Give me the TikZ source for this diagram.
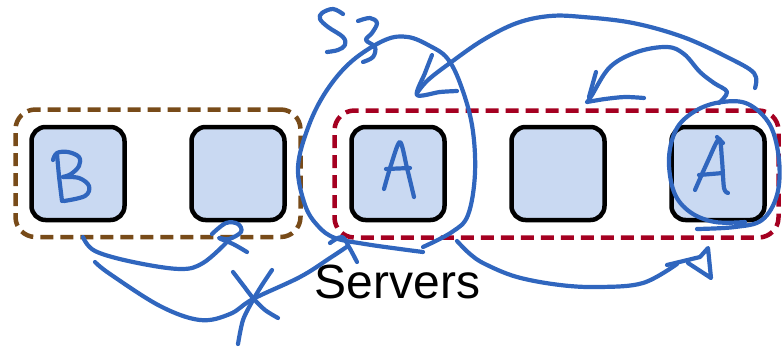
\documentclass[tikz,border=0pt]{standalone}
\usepackage{fontspec}
\setmainfont{Liberation Sans}
\definecolor{cardfill}{HTML}{C9D9F2}
\definecolor{inkblue}{HTML}{3066BE}
\definecolor{grpbrown}{HTML}{784B19}
\definecolor{grpred}{HTML}{A50021}
\tikzset{
  card/.style={draw=black, fill=cardfill, line width=4.5pt, rounded corners=14pt,
    minimum width=93pt, minimum height=93pt, inner sep=0pt},
  grpframe/.style={line width=4.5pt, dash pattern=on 13pt off 7pt, rounded corners=20pt,
    inner sep=0pt},
  ink/.style={draw=inkblue, line width=4.2pt, line cap=round, line join=round},
  label/.style={font=\fontsize{48}{58}\selectfont, inner sep=0pt}
}
\begin{document}
\begin{tikzpicture}[x=1pt,y=-1pt]
\useasboundingbox (0,0) rectangle (782,346);

% group frames
\node[grpframe, draw=grpbrown, minimum width=285pt, minimum height=127.5pt] (grpL) at (158,173.25) {};
\node[grpframe, draw=grpred, minimum width=444pt, minimum height=127pt] (grpR) at (556.5,174) {};

% servers
\node[card] (b1) at (78,173.5) {};
\node[card] (b2) at (238,173.5) {};
\node[card] (b3) at (398,173.5) {};
\node[card] (b4) at (558,173.5) {};
\node[card] (b5) at (718,173.5) {};

\node[label, anchor=base west] (srv) at (314.5,298) {Servers};

% handwritten B
\draw[ink] plot[smooth] coordinates {(57,154) (59,176) (62,201)};
\draw[ink] plot[smooth, tension=0.6] coordinates {(53,160) (57,153) (68,152) (79,157) (79,166) (71,174) (63,177)};
\draw[ink] plot[smooth, tension=0.6] coordinates {(63,177) (79,178) (89,186) (85,196) (64,201)};

% handwritten A (middle)
\draw[ink] plot[smooth] coordinates {(384,189) (391,165) (400,142) (407,168) (414,197)};
\draw[ink] (386,169) -- (410,168);

% handwritten A (right) and its loop
\draw[ink] plot[smooth] coordinates {(695,190) (707,163) (719,139) (722,160) (724,188) (728,193)};
\draw[ink] (717,137) -- (723,143);
\draw[ink] (699,175) -- (723,173);
\draw[ink] plot[smooth, tension=0.6] coordinates {(697,229) (735,227) (762,220) (777,195) (779,160) (770,125) (748,104) (722,102) (697,110) (677,128) (669,158) (674,192) (690,212) (715,222) (745,222)};

% arrow from the right loop back to the left
\draw[ink] plot[smooth, tension=0.6] coordinates {(719,103) (727,92) (714,83) (700,72) (684,54) (667,47) (637,52) (610,67) (592,95) (588,101)};
\draw[ink] (596,72) -- (589,97);
\draw[ink] plot[smooth] coordinates {(587,102) (605,99) (625,97) (644,98)};

% big arc into the S3 loop
\draw[ink] plot[smooth, tension=0.6] coordinates {(755,88) (754,73) (727,57) (683,37) (633,23) (583,17) (550,16) (517,23) (483,40) (450,63) (428,80) (417,93)};
\draw[ink] plot[smooth] coordinates {(432,55) (425,73) (417,95) (440,92) (457,91)};

% S3 loop
\draw[ink] plot[smooth, tension=0.6] coordinates {(423,247) (452,232) (468,215) (475,173) (472,125) (460,83) (447,58) (430,46) (408,37) (385,40) (352,61) (327,90) (309,125) (298,167) (305,205) (318,226) (335,238) (365,244) (400,249) (423,252)};

% S3 label
\draw[ink] plot[smooth, tension=0.6] coordinates {(343,14) (333,9) (322,13) (320,19) (328,27) (343,37) (345,45) (338,50) (327,52)};
\draw[ink] plot[smooth, tension=0.6] coordinates {(358,21) (370,18) (377,23) (372,33) (366,40) (375,47) (373,57) (363,62)};

% lower-left strokes
\draw[ink] plot[smooth, tension=0.6] coordinates {(83,237) (95,251) (133,262) (180,269) (203,263) (226,243)};
\draw[ink] plot[smooth, tension=0.6] coordinates {(212,234) (226,223) (238,224) (241,232) (229,239) (219,238) (233,244) (247,252)};
\draw[ink] plot[smooth, tension=0.6] coordinates {(95,262) (110,274) (160,306) (200,320) (230,314) (253,299) (300,277) (330,258) (348,246)};
\draw[ink] plot[smooth, tension=0.6] coordinates {(330,243) (342,237) (349,247) (357,262)};

% cross mark
\draw[ink] plot[smooth] coordinates {(233,272) (243,285) (253,298) (265,310) (278,318)};
\draw[ink] plot[smooth] coordinates {(272,270) (262,285) (253,300) (243,320) (238,344)};

% lower-right arrow
\draw[ink] plot[smooth, tension=0.6] coordinates {(457,241) (470,254) (485,264) (517,277) (560,285) (600,287) (643,283) (677,264)};
\draw[ink] (667,265) -- (700,257) -- (708,248) -- (711,278) -- (688,263);
\end{tikzpicture}
\end{document}
